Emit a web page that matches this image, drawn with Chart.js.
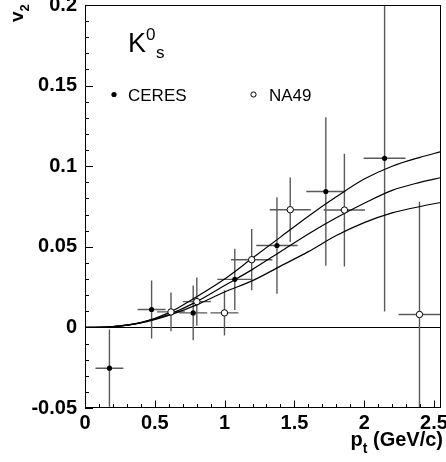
<!DOCTYPE html>
<html><head><meta charset="utf-8">
<script src="https://cdn.jsdelivr.net/npm/chart.js@4/dist/chart.umd.min.js"></script>
<style>html,body{margin:0;padding:0;background:#fff}#wrap{width:446px;height:462px;position:relative}</style>
</head><body><div id="wrap"><canvas id="c" width="446" height="462"></canvas></div>
<script>
// ---- data ----
const ceresX    = [0.175, 0.477, 0.775, 1.073, 1.375, 1.725, 2.146];
const ceresY    = [-0.0253, 0.0111, 0.009, 0.0298, 0.0508, 0.0843, 0.1049];
const ceresXErr = [0.1, 0.1, 0.1, 0.125, 0.148, 0.14, 0.15];
const ceresYErr = [0.024, 0.018, 0.017, 0.019, 0.030, 0.046, 0.095];

const na49X    = [0.616, 0.801, 0.999, 1.194, 1.47, 1.858, 2.396];
const na49Y    = [0.0096, 0.016, 0.009, 0.042, 0.073, 0.0728, 0.008];
const na49XErr = [0.1, 0.1, 0.1, 0.148, 0.147, 0.148, 0.15];
const na49YErr = [0.012, 0.015, 0.014, 0.019, 0.02, 0.035, 0.07];

const curveX      = [0, 0.2, 0.4, 0.6, 0.8, 1.0, 1.2, 1.4, 1.6, 1.8, 2.0, 2.2, 2.4, 2.55];
const curveUpper  = [0, 0.0005, 0.003, 0.009, 0.019, 0.030, 0.043, 0.056, 0.069, 0.081, 0.092, 0.100, 0.1055, 0.109];
const curveMiddle = [0, 0.0005, 0.003, 0.008, 0.016, 0.026, 0.036, 0.047, 0.058, 0.068, 0.077, 0.085, 0.0900, 0.093];
const curveLower  = [0, 0.0005, 0.0028, 0.0075, 0.014, 0.022, 0.029, 0.038, 0.047, 0.057, 0.065, 0.071, 0.075, 0.0775];

const xTickValues = [0, 0.5, 1, 1.5, 2, 2.5];
const xTickLabels = ["0", "0.5", "1", "1.5", "2", "2.5"];
const yTickValues = [-0.05, 0, 0.05, 0.1, 0.15, 0.2];
const yTickLabels = ["-0.05", "0", "0.05", "0.1", "0.15", "0.2"];

const seriesNames = ["CERES", "NA49"];
// ---------------

const pts = (xs, ys) => xs.map((x, i) => ({x: x, y: ys[i]}));
const lookup = (vals, labels, v) => { for (let i = 0; i < vals.length; i++) if (Math.abs(vals[i] - v) < 1e-6) return labels[i]; return ''; };
const FONT = '"Liberation Sans", Arial, Helvetica, sans-serif';

const curveDs = (ys) => ({
  type: 'line', data: pts(curveX, ys), borderColor: '#000', borderWidth: 1.2,
  pointRadius: 0, fill: false, cubicInterpolationMode: 'monotone', order: 2
});

const decor = {
  id: 'decor',
  beforeDatasetsDraw(chart) {
    const {ctx, chartArea: a, scales: {x, y}} = chart;
    ctx.save();
    ctx.beginPath(); ctx.rect(a.left, a.top, a.right - a.left, a.bottom - a.top); ctx.clip();
    // zero line
    ctx.strokeStyle = '#000'; ctx.lineWidth = 1;
    ctx.beginPath(); ctx.moveTo(a.left, Math.round(y.getPixelForValue(0)) + 0.5); ctx.lineTo(a.right, Math.round(y.getPixelForValue(0)) + 0.5); ctx.stroke();
    // error bars
    ctx.strokeStyle = '#5a5a5a'; ctx.lineWidth = 1.4;
    const bars = (xs, ys, xe, ye) => {
      for (let i = 0; i < xs.length; i++) {
        const px = x.getPixelForValue(xs[i]), py = y.getPixelForValue(ys[i]);
        ctx.beginPath();
        ctx.moveTo(x.getPixelForValue(xs[i] - xe[i]), py); ctx.lineTo(x.getPixelForValue(xs[i] + xe[i]), py);
        ctx.moveTo(px, y.getPixelForValue(ys[i] - ye[i])); ctx.lineTo(px, y.getPixelForValue(ys[i] + ye[i]));
        ctx.stroke();
      }
    };
    bars(ceresX, ceresY, ceresXErr, ceresYErr);
    bars(na49X, na49Y, na49XErr, na49YErr);
    ctx.restore();
  },
  afterDraw(chart) {
    const {ctx, chartArea: a, scales: {x, y}} = chart;
    ctx.save();
    // frame
    ctx.strokeStyle = '#000'; ctx.lineWidth = 1;
    ctx.strokeRect(a.left + 0.5, a.top + 0.5, a.right - a.left - 1, a.bottom - a.top - 1);
    // inside ticks
    ctx.beginPath();
    for (let i = 0; i <= 25; i++) {
      const v = i / 10; const px = Math.round(x.getPixelForValue(v)) + 0.5;
      const len = (i % 5 === 0) ? 7.5 : 4;
      ctx.moveTo(px, a.bottom); ctx.lineTo(px, a.bottom - len);
    }
    for (let i = -5; i <= 20; i++) {
      const v = i / 100; const py = Math.round(y.getPixelForValue(v)) + 0.5;
      const len = (i % 5 === 0) ? 8 : 4;
      ctx.moveTo(a.left, py); ctx.lineTo(a.left + len, py);
    }
    ctx.stroke();
    // K0s label
    ctx.fillStyle = '#000'; ctx.textBaseline = 'alphabetic'; ctx.textAlign = 'left';
    ctx.font = '27px ' + FONT; ctx.fillText('K', 128, 52);
    ctx.font = '17px ' + FONT; ctx.fillText('0', 146, 40);
    ctx.font = '17px ' + FONT; ctx.fillText('s', 156, 58);
    // legend
    ctx.font = '17px ' + FONT;
    ctx.beginPath(); ctx.arc(114, 94.5, 2.6, 0, Math.PI * 2); ctx.fill();
    ctx.fillText(seriesNames[0], 128, 101);
    ctx.beginPath(); ctx.arc(253.5, 94.5, 2.6, 0, Math.PI * 2); ctx.fillStyle = '#fff'; ctx.fill();
    ctx.strokeStyle = '#000'; ctx.lineWidth = 1; ctx.stroke();
    ctx.fillStyle = '#000';
    ctx.fillText(seriesNames[1], 269, 101);
    // x title
    const t1 = 'p', t3 = ' (GeV/c)';
    ctx.font = 'bold 14px ' + FONT; const wt = ctx.measureText('t').width;
    ctx.font = 'bold 20px ' + FONT;
    const w1 = ctx.measureText(t1).width, w3 = ctx.measureText(t3).width;
    const x0 = 443 - (w1 + wt + w3);
    ctx.fillText(t1, x0, 446);
    ctx.font = 'bold 14px ' + FONT; ctx.fillText('t', x0 + w1, 453);
    ctx.font = 'bold 20px ' + FONT; ctx.fillText(t3, x0 + w1 + wt, 446);
    // y title
    ctx.save();
    ctx.translate(23, 22); ctx.rotate(-Math.PI / 2);
    ctx.font = 'bold 19px ' + FONT; ctx.fillText('v', 0, 0);
    const wv = ctx.measureText('v').width;
    ctx.font = 'bold 13px ' + FONT; ctx.fillText('2', wv, 6);
    ctx.restore();
    ctx.restore();
  }
};

new Chart(document.getElementById('c'), {
  type: 'scatter',
  data: {
    datasets: [
      curveDs(curveUpper), curveDs(curveMiddle), curveDs(curveLower),
      {label: seriesNames[0], data: pts(ceresX, ceresY), pointRadius: 2.6, pointBackgroundColor: '#000', pointBorderColor: '#000', pointBorderWidth: 0, order: 1},
      {label: seriesNames[1], data: pts(na49X, na49Y), pointRadius: 3.2, pointBackgroundColor: '#fff', pointBorderColor: '#000', pointBorderWidth: 1, order: 0}
    ]
  },
  options: {
    responsive: false, animation: false, devicePixelRatio: 1,
    layout: {padding: {top: 3, right: 4, left: 0, bottom: 0}},
    plugins: {legend: {display: false}, tooltip: {enabled: false}},
    scales: {
      x: {
        type: 'linear', min: 0, max: 2.55,
        grid: {display: false, drawTicks: false},
        border: {display: false},
        ticks: {stepSize: 0.5, includeBounds: false, autoSkip: false, maxRotation: 0, padding: 3, color: '#000',
          font: {family: FONT, weight: 'bold', size: 20},
          callback: (v) => lookup(xTickValues, xTickLabels, v)},
        afterFit(s) { s.height = 54; s.paddingLeft = 0; s.paddingRight = 0; }
      },
      y: {
        type: 'linear', min: -0.05, max: 0.2,
        grid: {display: false, drawTicks: false},
        border: {display: false},
        ticks: {stepSize: 0.05, includeBounds: false, autoSkip: false, padding: 8, color: '#000',
          font: {family: FONT, weight: 'bold', size: 20},
          callback: (v) => lookup(yTickValues, yTickLabels, v)},
        afterFit(s) { s.width = 85; s.paddingTop = 0; s.paddingBottom = 0; }
      }
    }
  },
  plugins: [decor]
});
</script></body></html>
